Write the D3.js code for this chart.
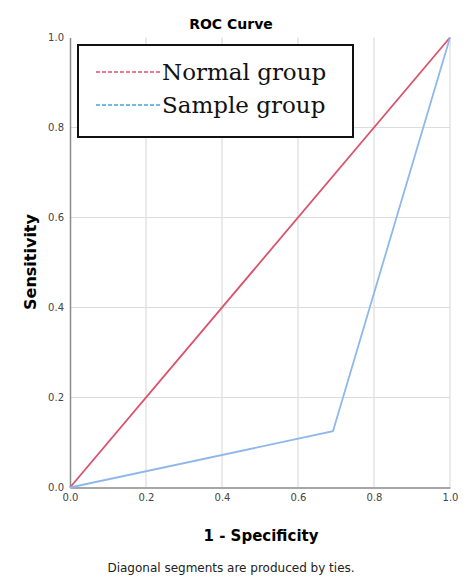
<!DOCTYPE html>
<html>
<head>
<meta charset="utf-8">
<script src="https://cdn.jsdelivr.net/npm/d3@7"></script>
<style>
body { margin: 0; background: #fff; }
text { font-family: "DejaVu Sans", sans-serif; }
</style>
</head>
<body>
<svg id="chart" width="473" height="577"></svg>
<script>
// ROC data
var ticks = [0, 0.2, 0.4, 0.6, 0.8, 1.0];
var normalX = [0, 1];
var normalY = [0, 1];
var sampleX = [0, 0.692, 1];
var sampleY = [0, 0.125, 1];
var legendNames = ["Normal group", "Sample group"];
var legendColors = ["#d9536e", "#3fa9d8"];

var svg = d3.select("#chart");
var mLeft = 70, mRight = 450, mTop = 37.5, mBottom = 487.5;

var x = d3.scaleLinear().domain([0, 1]).range([mLeft, mRight]);
var y = d3.scaleLinear().domain([0, 1]).range([mBottom, mTop]);

// grid
svg.append("g").selectAll("line")
	.data(ticks.slice(1))
	.enter().append("line")
	.attr("x1", function(d){ return x(d); })
	.attr("x2", function(d){ return x(d); })
	.attr("y1", y(0)).attr("y2", y(1))
	.style("stroke", "#dcdcdc").style("stroke-width", 1.2);

svg.append("g").selectAll("line")
	.data(ticks.slice(1, 5))
	.enter().append("line")
	.attr("y1", function(d){ return y(d); })
	.attr("y2", function(d){ return y(d); })
	.attr("x1", x(0)).attr("x2", x(1))
	.style("stroke", "#dcdcdc").style("stroke-width", 1.2);

// axes
var xAxis = svg.append("g")
	.attr("transform", "translate(0," + mBottom + ")")
	.call(d3.axisBottom(x).tickValues(ticks).tickFormat(d3.format(".1f")).tickSize(0).tickPadding(6));
var yAxis = svg.append("g")
	.attr("transform", "translate(" + mLeft + ",0)")
	.call(d3.axisLeft(y).tickValues(ticks).tickFormat(d3.format(".1f")).tickSize(0).tickPadding(6));

[xAxis, yAxis].forEach(function(a){
	a.select(".domain").style("stroke", "#8a8a8a").style("stroke-width", 1.5);
	a.selectAll("text").style("font-size", "10px").style("fill", "#444");
});

// lines
var line = d3.line()
	.x(function(d){ return x(d[0]); })
	.y(function(d){ return y(d[1]); });

svg.append("path")
	.datum(normalX.map(function(d, i){ return [d, normalY[i]]; }))
	.attr("d", line)
	.style("fill", "none").style("stroke", "#d9536e").style("stroke-width", 1.8);

svg.append("path")
	.datum(sampleX.map(function(d, i){ return [d, sampleY[i]]; }))
	.attr("d", line)
	.style("fill", "none").style("stroke", "#8fb8ea").style("stroke-width", 1.8);

// legend
var legendGroup = svg.append("g");
legendGroup.append("rect")
	.attr("x", 78).attr("y", 45)
	.attr("width", 275).attr("height", 92)
	.style("fill", "white").style("stroke", "#111").style("stroke-width", 2);

var legend = legendGroup.selectAll(".legend")
	.data(legendNames)
	.enter().append("g")
	.attr("class", "legend")
	.attr("transform", function(d, i){ return "translate(0," + (i * 33) + ")"; });

legend.append("line")
	.attr("x1", 96).attr("x2", 162)
	.attr("y1", 72).attr("y2", 72)
	.style("stroke", function(d, i){ return legendColors[i]; })
	.style("stroke-width", 1.4)
	.style("stroke-dasharray", "4,2");

legend.append("text")
	.attr("x", 162).attr("y", 80)
	.style("font-family", "'DejaVu Serif', 'Liberation Serif', serif")
	.style("font-size", "23px")
	.style("fill", "#111")
	.text(function(d){ return d; });

// titles
svg.append("text")
	.attr("x", 231).attr("y", 29)
	.attr("text-anchor", "middle")
	.style("font-size", "14px").style("font-weight", "bold")
	.text("ROC Curve");

svg.append("text")
	.attr("transform", "translate(36," + 262 + ") rotate(-90)")
	.attr("text-anchor", "middle")
	.style("font-size", "16px").style("font-weight", "bold")
	.text("Sensitivity");

svg.append("text")
	.attr("x", 261).attr("y", 541)
	.attr("text-anchor", "middle")
	.style("font-size", "15px").style("font-weight", "bold")
	.text("1 - Specificity");

svg.append("text")
	.attr("x", 231).attr("y", 572)
	.attr("text-anchor", "middle")
	.style("font-size", "12px").style("fill", "#222")
	.text("Diagonal segments are produced by ties.");
</script>
</body>
</html>
